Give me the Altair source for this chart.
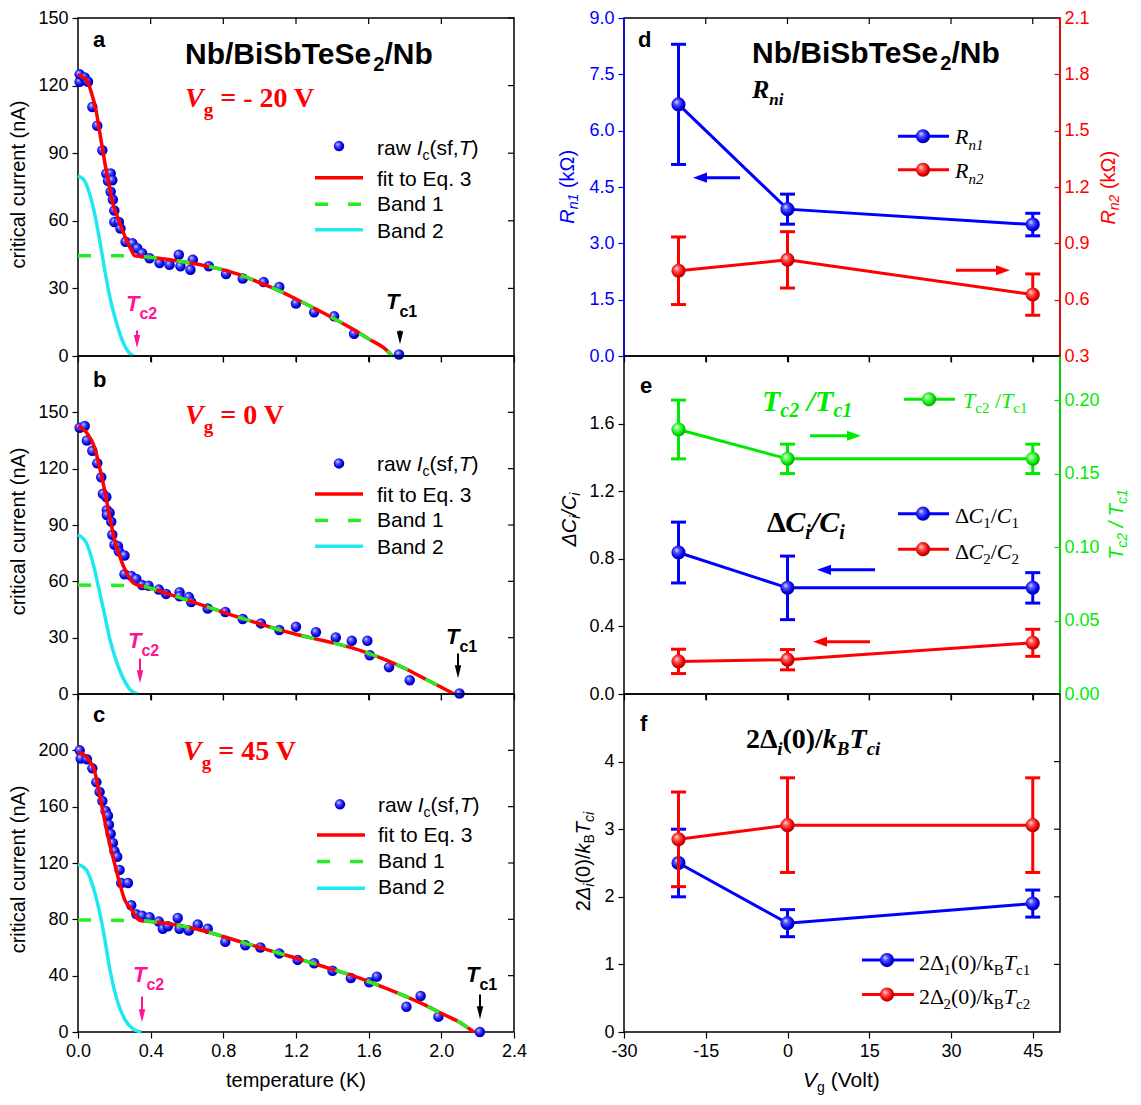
import altair as alt
import pandas as pd

SANS = "Liberation Sans"
SERIF = "Liberation Serif"

# ======================= DATA =======================
T_TICKS = [0.0, 0.4, 0.8, 1.2, 1.6, 2.0, 2.4]
VG_TICKS = [-30, -15, 0, 15, 30, 45]

# ---- panel a : Vg = -20 V ----
a_T = [0.009, 0.009, 0.037, 0.055, 0.079, 0.106, 0.134, 0.156, 0.180, 0.165, 0.189, 0.180, 0.192,
       0.200, 0.200, 0.225, 0.234, 0.262, 0.300, 0.326, 0.353, 0.394, 0.449, 0.504, 0.555, 0.564,
       0.619, 0.632, 0.720, 0.815, 0.907, 1.022, 1.108, 1.200, 1.300, 1.410, 1.520, 1.767]
a_I = [121.7, 125.0, 123.6, 121.7, 110.5, 102.2, 91.3, 81.0, 81.0, 77.7, 78.0, 72.9, 69.4,
       64.6, 59.5, 59.5, 56.6, 50.7, 50.0, 47.8, 45.6, 43.4, 41.3, 40.5, 44.9, 39.8,
       38.3, 42.7, 39.8, 36.4, 34.4, 32.8, 30.6, 23.3, 19.4, 17.6, 9.9, 0.7]
a_fit_T = [0.0, 0.049, 0.073, 0.101, 0.119, 0.137, 0.156, 0.174, 0.192, 0.211, 0.238, 0.266, 0.293, 0.311,
           0.4, 0.5, 0.6, 0.7, 0.8, 0.9, 1.0, 1.1, 1.2, 1.3, 1.4, 1.5, 1.6, 1.7, 1.73]
a_fit_I = [124.8, 122.2, 117.1, 108.3, 99.6, 90.8, 82.1, 74.8, 67.5, 63.1, 57.3, 51.5, 47.1, 44.5,
           43.8, 42.8, 41.5, 40.1, 38.2, 35.8, 32.5, 29.2, 25.3, 21.2, 17.0, 12.5, 7.6, 2.5, 0.0]
a_b1_T = [0.0, 0.311, 0.4, 0.5, 0.6, 0.7, 0.8, 0.9, 1.0, 1.1, 1.2, 1.3, 1.4, 1.5, 1.6, 1.7, 1.73]
a_b1_I = [44.5, 44.5, 43.8, 42.8, 41.5, 40.1, 38.2, 35.8, 32.5, 29.2, 25.3, 21.2, 17.0, 12.5, 7.6, 2.5, 0.0]
a_b2_T = [0.0, 0.037, 0.064, 0.092, 0.119, 0.147, 0.174, 0.211, 0.247, 0.284, 0.308]
a_b2_I = [79.9, 77.7, 71.9, 63.1, 51.5, 38.3, 26.7, 15.0, 6.3, 1.2, 0.0]
a_yticks = [0, 30, 60, 90, 120, 150]

# ---- panel b : Vg = 0 V ----
b_T = [0.009, 0.037, 0.049, 0.079, 0.106, 0.128, 0.137, 0.156, 0.159, 0.174, 0.159, 0.183, 0.189,
       0.201, 0.220, 0.225, 0.256, 0.256, 0.293, 0.321, 0.353, 0.388, 0.445, 0.485, 0.559, 0.559,
       0.610, 0.623, 0.714, 0.811, 0.907, 1.007, 1.108, 1.200, 1.310, 1.419, 1.507, 1.593, 1.606,
       1.712, 1.826, 2.100]
b_I = [141.8, 142.7, 135.0, 129.5, 122.9, 115.4, 106.6, 104.9, 97.9, 96.5, 95.3, 91.8, 84.8,
       79.5, 78.7, 76.0, 73.8, 63.8, 62.9, 61.2, 58.0, 57.7, 55.6, 53.3, 54.2, 52.1,
       51.6, 49.0, 45.5, 43.7, 39.9, 37.6, 34.1, 35.8, 32.9, 30.1, 28.3, 28.3, 20.6,
       14.3, 7.3, 0.3]
b_fit_T = [0.0, 0.049, 0.092, 0.119, 0.147, 0.174, 0.201, 0.229, 0.266, 0.302, 0.339,
           0.4, 0.5, 0.6, 0.7, 0.8, 0.9, 1.0, 1.1, 1.2, 1.3, 1.4, 1.5, 1.6, 1.7, 1.8, 1.9, 2.0, 2.07]
b_fit_I = [142.5, 139.0, 131.1, 120.6, 108.4, 94.4, 82.2, 73.4, 64.7, 59.4, 57.7,
           56.3, 53.2, 50.0, 46.8, 43.5, 40.4, 37.4, 34.4, 31.8, 29.5, 27.3, 24.8, 21.6, 17.9, 13.6, 8.6, 3.6, 0.0]
b_b1_T = [0.0, 0.339, 0.4, 0.5, 0.6, 0.7, 0.8, 0.9, 1.0, 1.1, 1.2, 1.3, 1.4, 1.5, 1.6, 1.7, 1.8, 1.9, 2.0, 2.07]
b_b1_I = [58.0, 57.7, 56.3, 53.2, 50.0, 46.8, 43.5, 40.4, 37.4, 34.4, 31.8, 29.5, 27.3, 24.8, 21.6, 17.9,
          13.6, 8.6, 3.6, 0.0]
b_b2_T = [0.0, 0.046, 0.082, 0.119, 0.147, 0.174, 0.211, 0.256, 0.293, 0.330]
b_b2_I = [84.8, 80.4, 69.9, 54.2, 42.0, 29.7, 17.5, 7.0, 1.7, 0.0]
b_yticks = [0, 30, 60, 90, 120, 150]

# ---- panel c : Vg = 45 V ----
c_T = [0.009, 0.015, 0.049, 0.079, 0.101, 0.119, 0.134, 0.152, 0.165, 0.170, 0.180, 0.192, 0.201,
       0.216, 0.229, 0.238, 0.275, 0.293, 0.321, 0.353, 0.394, 0.445, 0.467, 0.495, 0.549, 0.559,
       0.610, 0.659, 0.714, 0.811, 0.921, 1.004, 1.108, 1.209, 1.300, 1.401, 1.502, 1.603, 1.645,
       1.808, 1.886, 1.984, 2.212]
c_I = [200.0, 194.2, 193.7, 187.2, 177.4, 170.5, 164.0, 157.0, 153.5, 147.2, 140.7, 134.2, 128.4,
       124.4, 115.1, 105.8, 105.8, 90.0, 83.7, 82.6, 81.4, 78.4, 73.3, 75.1, 81.0, 73.3,
       72.1, 76.3, 73.3, 64.0, 61.6, 60.0, 55.8, 51.2, 48.8, 43.5, 38.4, 35.3, 39.3,
       17.9, 25.6, 10.9, 0.0]
c_fit_T = [0.0, 0.055, 0.092, 0.119, 0.147, 0.174, 0.201, 0.229, 0.256, 0.293, 0.330, 0.348,
           0.4, 0.5, 0.6, 0.7, 0.8, 0.9, 1.0, 1.1, 1.2, 1.3, 1.4, 1.5, 1.6, 1.7, 1.8, 1.9, 2.0, 2.1, 2.18]
c_fit_I = [198.8, 194.0, 184.9, 168.6, 150.0, 133.7, 119.8, 105.8, 94.2, 87.2, 80.2, 79.0,
           78.5, 76.8, 74.5, 71.5, 67.8, 63.8, 60.0, 56.2, 52.5, 48.5, 44.5, 40.5, 35.8, 30.8, 25.5,
           19.8, 13.3, 7.0, 0.0]
c_b1_T = [0.0, 0.348, 0.4, 0.5, 0.6, 0.7, 0.8, 0.9, 1.0, 1.1, 1.2, 1.3, 1.4, 1.5, 1.6, 1.7, 1.8, 1.9,
          2.0, 2.1, 2.18]
c_b1_I = [79.5, 79.0, 78.5, 76.8, 74.5, 71.5, 67.8, 63.8, 60.0, 56.2, 52.5, 48.5, 44.5, 40.5, 35.8,
          30.8, 25.5, 19.8, 13.3, 7.0, 0.0]
c_b2_T = [0.0, 0.046, 0.082, 0.119, 0.147, 0.174, 0.211, 0.256, 0.302, 0.348]
c_b2_I = [119.0, 115.1, 103.5, 84.9, 66.3, 45.3, 24.4, 9.3, 2.3, 0.0]
c_yticks = [0, 40, 80, 120, 160, 200]

# ---- right column (gate voltage dependence) ----
VG = [-20, 0, 45]
Rn1 = [6.70, 3.91, 3.50]
Rn1_err = [1.60, 0.40, 0.30]
Rn2 = [0.754, 0.812, 0.627]
Rn2_err = [0.180, 0.150, 0.110]
dC1 = [0.837, 0.628, 0.628]
dC1_err = [0.180, 0.188, 0.090]
dC2 = [0.193, 0.203, 0.303]
dC2_err = [0.072, 0.060, 0.080]
TcR = [0.180, 0.160, 0.160]
TcR_err = [0.020, 0.010, 0.010]
G1 = [2.50, 1.61, 1.90]
G1_err = [0.50, 0.20, 0.20]
G2 = [2.85, 3.06, 3.06]
G2_err = [0.70, 0.70, 0.70]

# ======================= STYLE =======================
W, H = 436, 338
SY = H / 343.0  # annotation positions below were measured on a 343 px tall panel
SX = W / 437.0
BLUE, RED, GREEN, CYAN, PINK = "#0000ff", "#ff0000", "#00ea00", "#20e8f0", "#ff1493"
DASH_GREEN = "#22ee22"


def grad(c0, c1, c2, c3):
    return {"gradient": "radial", "x1": 0.36, "y1": 0.32, "r1": 0.0,
            "x2": 0.45, "y2": 0.45, "r2": 0.62,
            "stops": [{"offset": 0, "color": c0}, {"offset": 0.28, "color": c1},
                      {"offset": 0.7, "color": c2}, {"offset": 1, "color": c3}]}


G_BLUE = grad("#e4e4ff", "#5a5aff", "#0000e6", "#00008a")
G_RED = grad("#ffe4e4", "#ff6060", "#e60000", "#8a0000")
G_GREEN = grad("#e4ffe4", "#70ff70", "#00dd00", "#008a00")

KIND = {
    "sans": (SANS, "normal", "normal"), "sansi": (SANS, "normal", "italic"),
    "sansb": (SANS, "bold", "normal"), "sansbi": (SANS, "bold", "italic"),
    "serif": (SERIF, "normal", "normal"), "serifi": (SERIF, "normal", "italic"),
    "serifb": (SERIF, "bold", "normal"), "serifbi": (SERIF, "bold", "italic"),
}


def _w(pairs):
    d = {}
    for chars, w in pairs:
        for ch in chars:
            d[ch] = w
    return d


W_SANS = _w([(" ,./", 278), ("()-r", 333), ("0123456789", 556), ("=", 584), ("ABEKPSVXY", 667),
             ("CDHNRU", 722), ("FTZ", 611), ("GOQ", 778), ("I", 278), ("L", 556), ("M", 833),
             ("abdeghnopqu", 556), ("ckvxyzs", 500), ("ft", 278), ("ijl", 222), ("m", 833), ("w", 722),
             ("Δ", 668), ("Ω", 768)])
W_SANSB = dict(W_SANS)
W_SANSB.update(_w([("ABCN", 722), ("bdgnopqu", 611), ("ces", 556), ("ijl", 278), ("r", 389)]))
W_SERIF = _w([(" ", 250), ("()-", 333), ("/it", 278), ("0123456789gkno", 500), ("=", 564), ("BCRT", 667),
              ("T", 611), ("V", 722), ("ace", 444), ("l", 278), ("Δ", 612)])
W_SERIFB = dict(W_SERIF)
W_SERIFB.update(_w([("=", 570), ("CRV", 722), ("T", 667), ("kn", 556)]))
W_SERIFI = _w([(" ", 250), ("/i", 278), ("0123456789n", 500), ("BR", 611), ("C", 667), ("T", 556),
               ("c", 444), ("k", 444), ("V", 611)])
W_SERIFBI = _w([(" ", 250), ("/i", 278), ("0123456789k", 500), ("BRCV", 667), ("T", 611), ("c", 444),
                ("n", 556), ("()", 333)])
WTAB = {"sans": W_SANS, "sansi": W_SANS, "sansb": W_SANSB, "sansbi": W_SANSB,
        "serif": W_SERIF, "serifi": W_SERIFI, "serifb": W_SERIFB, "serifbi": W_SERIFBI}

ONE = pd.DataFrame({"k": [0]})


def seg_w(text, kind, size):
    tab = WTAB[kind]
    return sum(tab.get(ch, 550) for ch in text) * size / 1000.0


def txt(text, kind, size, x, y, color, angle=0):
    fam, wt, st = KIND[kind]
    return alt.Chart(ONE).mark_text(text=text, font=fam, fontSize=size, fontWeight=wt, fontStyle=st,
                                    color=color, align="left", baseline="alphabetic",
                                    angle=angle).encode(x=alt.value(x), y=alt.value(y))


def rich(segs, x, y, color="black", angle=0, align="left"):
    y = y * SY
    widths = [seg_w(s[0], s[1], s[2]) for s in segs]
    total = sum(widths)
    adv = {"left": 0.0, "center": -total / 2.0, "right": -total}[align]
    out = []
    for s, w in zip(segs, widths):
        text, kind, size = s[0], s[1], s[2]
        dy = s[3] if len(s) > 3 else 0
        lead = len(text) - len(text.lstrip(" "))
        a0 = adv + seg_w(" " * lead, kind, size)
        t = text.strip(" ")
        if t:
            if angle == 0:
                px, py = x + a0, y + dy
            else:
                px, py = x + dy, y - a0
            out.append(txt(t, kind, size, px, py, color, angle))
        adv += w
    return out


LEFT_HEAD = "M-1,0L1,-0.72L1,0.72Z"
RIGHT_HEAD = "M1,0L-1,-0.72L-1,0.72Z"
DOWN_HEAD = "M0,1L-0.5,-1L0.5,-1Z"


def harrow(x_tail, x_tip, y, color, head=14, sw=3):
    y = y * SY
    d = 1 if x_tip > x_tail else -1
    shaft = alt.Chart(ONE).mark_rule(color=color, strokeWidth=sw).encode(
        x=alt.value(x_tail), x2=alt.value(x_tip - d * head * 0.8), y=alt.value(y))
    hd = alt.Chart(ONE).mark_point(shape=RIGHT_HEAD if d > 0 else LEFT_HEAD, filled=True, fill=color,
                                   size=head * head, opacity=1, strokeWidth=0).encode(
        x=alt.value(x_tip - d * head / 2.0), y=alt.value(y))
    return [shaft, hd]


def varrow(x, y_tail, y_tip, color, head=13, sw=2):
    y_tail, y_tip = y_tail * SY, y_tip * SY
    shaft = alt.Chart(ONE).mark_rule(color=color, strokeWidth=sw).encode(
        x=alt.value(x), y=alt.value(y_tail), y2=alt.value(y_tip - head * 0.8))
    hd = alt.Chart(ONE).mark_point(shape=DOWN_HEAD, filled=True, fill=color, size=head * head,
                                   opacity=1, strokeWidth=0).encode(x=alt.value(x), y=alt.value(y_tip - head / 2.0))
    return [shaft, hd]


def hseg(x1, x2, y, color, sw=3.5, dash=None):
    kw = dict(color=color, strokeWidth=sw)
    if dash:
        kw["strokeDash"] = dash
    return alt.Chart(ONE).mark_rule(**kw).encode(x=alt.value(x1), x2=alt.value(x2), y=alt.value(y * SY))


def vline(x, color, sw=1.6):
    return alt.Chart(ONE).mark_rule(color=color, strokeWidth=sw).encode(
        x=alt.value(x), y=alt.value(0), y2=alt.value(H))


def dot(x, y, g, size):
    return alt.Chart(ONE).mark_point(shape="circle", filled=True, fill=g, size=size, opacity=1,
                                     strokeWidth=0).encode(x=alt.value(x), y=alt.value(y * SY))


# ======================= LEFT PANELS =======================
def left_panel(T, I, fT, fI, b1T, b1I, b2T, b2I, ymax, yticks, letter, letter_y, vg_txt, vg_x, vg_y,
               leg, tc2, tc1, ytitle_c, show_x):
    xs = alt.Scale(domain=[0, 2.4], nice=False, zero=False)
    ys = alt.Scale(domain=[0, ymax], nice=False, zero=False)
    xax = alt.Axis(values=T_TICKS, labels=show_x, format=".1f", title=None)
    yax = alt.Axis(values=yticks, format="d", title=None)

    def X(f):
        return alt.X(f, type="quantitative", scale=xs, axis=xax)

    def Y(f):
        return alt.Y(f, type="quantitative", scale=ys, axis=yax)

    L = []
    L.append(alt.Chart(pd.DataFrame({"T": T, "I": I})).mark_point(
        shape="circle", filled=True, fill=G_BLUE, size=110, opacity=1, strokeWidth=0).encode(x=X("T"), y=Y("I")))
    L.append(alt.Chart(pd.DataFrame({"T": b2T, "I": b2I})).mark_line(
        color=CYAN, strokeWidth=3.5, interpolate="monotone").encode(x=X("T"), y=Y("I")))
    L.append(alt.Chart(pd.DataFrame({"T": fT, "I": fI})).mark_line(
        color=RED, strokeWidth=3.5, interpolate="monotone").encode(x=X("T"), y=Y("I")))
    L.append(alt.Chart(pd.DataFrame({"T": b1T, "I": b1I})).mark_line(
        color=DASH_GREEN, strokeWidth=3.5, strokeDash=[13, 20], interpolate="monotone").encode(x=X("T"), y=Y("I")))
    # mirror ticks (top and right, pointing inward)
    L.append(alt.Chart(pd.DataFrame({"v": T_TICKS[1:-1]})).mark_rule(color="black", strokeWidth=1.2).encode(
        x=X("v"), y=alt.value(0), y2=alt.value(6)))
    L.append(alt.Chart(pd.DataFrame({"v": yticks[1:]})).mark_rule(color="black", strokeWidth=1.2).encode(
        y=Y("v"), x=alt.value(W - 6), x2=alt.value(W)))
    # panel letter, title, gate voltage
    L += rich([(letter, "sansb", 22)], 15, letter_y)
    if letter == "a":
        L += rich([("Nb/BiSbTeSe", "sansb", 30), ("2", "sansb", 20, 7), ("/Nb", "sansb", 30)], 107, 47)
    L += rich([("V", "serifbi", 28), ("g", "serifb", 19, 9), (vg_txt, "serifb", 28)], vg_x, vg_y, RED)
    # legend
    mx, my, tx, tb, lx1, lx2, ly = leg
    L.append(dot(mx, my, G_BLUE, 110))
    L += rich([("raw ", "sans", 21), ("I", "sansi", 21), ("c", "sans", 14, 5), ("(sf,", "sans", 21),
               ("T", "sansi", 21), (")", "sans", 21)], tx, tb[0])
    L += rich([("fit to Eq. 3", "sans", 21)], tx, tb[1])
    L += rich([("Band 1", "sans", 21)], tx, tb[2])
    L += rich([("Band 2", "sans", 21)], tx, tb[3])
    L.append(hseg(lx1, lx2, ly[0], RED))
    L.append(hseg(lx1, lx2, ly[1], DASH_GREEN, dash=[13, 20]))
    L.append(hseg(lx1, lx2, ly[2], CYAN))
    # Tc markers
    (t2x, t2y, a2x, a2y0, a2y1) = tc2
    (t1x, t1y, a1x, a1y0, a1y1) = tc1
    L += rich([("T", "sansbi", 22), ("c2", "sansb", 16, 8)], t2x, t2y, PINK)
    L += varrow(a2x, a2y0, a2y1, PINK)
    L += rich([("T", "sansbi", 22), ("c1", "sansb", 16, 8)], t1x, t1y, "black")
    L += varrow(a1x, a1y0, a1y1, "black")
    # axis titles
    L += rich([("critical current (nA)", "sans", 20)], -53, ytitle_c, angle=270, align="center")
    if show_x:
        L += rich([("temperature (K)", "sans", 20)], W / 2, 399, align="center")
    return alt.layer(*L).properties(width=W, height=H)


pa = left_panel(a_T, a_I, a_fit_T, a_fit_I, a_b1_T, a_b1_I, a_b2_T, a_b2_I, 150, a_yticks, "a", 29,
                " = - 20 V", 107, 90,
                (261, 130, 299, [139, 170, 196, 223], 237, 285, [162, 189, 215]),
                (48, 297, 59, 317, 335), (308, 295, 322, 317, 331), 169, False)
pb = left_panel(b_T, b_I, b_fit_T, b_fit_I, b_b1_T, b_b1_I, b_b2_T, b_b2_I, 180, b_yticks, "b", 31,
                " = 0 V", 107, 69,
                (261, 109, 299, [117, 148, 174, 201], 237, 285, [140, 167, 193]),
                (50, 296, 62, 307, 332), (368, 292, 380, 302, 327), 178, False)
pc = left_panel(c_T, c_I, c_fit_T, c_fit_I, c_b1_T, c_b1_I, c_b2_T, c_b2_I, 240, c_yticks, "c", 28,
                " = 45 V", 105, 67,
                (262, 112, 300, [120, 150, 177, 203], 239, 287, [143, 170, 197]),
                (55, 292, 64, 307, 333), (388, 292, 402, 305, 330), 178, True)

# ======================= RIGHT PANELS =======================
XR = alt.Scale(domain=[-30, 50], nice=False, zero=False)


def xax_r(show):
    return alt.Axis(values=VG_TICKS, labels=show, labelExpr="datum.value + ''", title=None)


def series(v, err, color, g, X, Y):
    df = pd.DataFrame({"vg": VG, "v": v, "lo": [a - e for a, e in zip(v, err)],
                       "hi": [a + e for a, e in zip(v, err)]})
    base = alt.Chart(df)
    return [
        base.mark_rule(color=color, strokeWidth=3).encode(x=X("vg"), y=Y("lo"), y2=alt.Y2("hi")),
        base.mark_tick(color=color, orient="horizontal", size=15, thickness=3, opacity=1).encode(x=X("vg"), y=Y("lo")),
        base.mark_tick(color=color, orient="horizontal", size=15, thickness=3, opacity=1).encode(x=X("vg"), y=Y("hi")),
        base.mark_line(color=color, strokeWidth=3).encode(x=X("vg"), y=Y("v")),
        base.mark_point(shape="circle", filled=True, fill=g, size=200, opacity=1, strokeWidth=0).encode(x=X("vg"), y=Y("v")),
    ]


def make_xy(xaxis, yscale, yaxis):
    def X(f):
        return alt.X(f, type="quantitative", scale=XR, axis=xaxis)

    def Y(f):
        return alt.Y(f, type="quantitative", scale=yscale, axis=yaxis)
    return X, Y


def top_ticks(X):
    return alt.Chart(pd.DataFrame({"v": VG_TICKS[1:]})).mark_rule(color="black", strokeWidth=1.2).encode(
        x=X("v"), y=alt.value(0), y2=alt.value(6))


# ---- panel d ----
xa = xax_r(False)
XdL, YdL = make_xy(xa, alt.Scale(domain=[0, 9], nice=False, zero=False),
                   alt.Axis(values=[0, 1.5, 3, 4.5, 6, 7.5, 9], format=".1f", labelColor=BLUE, tickColor=BLUE, title=None))
XdR, YdR = make_xy(xa, alt.Scale(domain=[0.3, 2.1], nice=False, zero=False),
                   alt.Axis(orient="right", values=[0.3, 0.6, 0.9, 1.2, 1.5, 1.8, 2.1], format=".1f",
                            labelColor=RED, tickColor=RED, offset=-6, title=None))
dA = [top_ticks(XdL)] + series(Rn1, Rn1_err, BLUE, G_BLUE, XdL, YdL)
dA += [vline(0, BLUE), vline(W, RED)]
dA += rich([("d", "sansb", 22)], 14, 29)
dA += rich([("Nb/BiSbTeSe", "sansb", 30), ("2", "sansb", 20, 7), ("/Nb", "sansb", 30)], 128, 46)
dA += rich([("R", "serifbi", 26), ("ni", "serifbi", 17, 7)], 128, 81)
dA += [hseg(274, 325, 120, BLUE, 3), dot(299, 120, G_BLUE, 200)]
dA += rich([("R", "serifi", 22), ("n1", "serifi", 15, 6)], 331, 128)
dA += [hseg(274, 325, 154, RED, 3), dot(299, 154, G_RED, 200)]
dA += rich([("R", "serifi", 22), ("n2", "serifi", 15, 6)], 331, 162)
dA += harrow(116, 69, 162, BLUE)
dA += harrow(332, 386, 256, RED)
dA += rich([("R", "sansi", 20), ("n1", "sansi", 14, 4), (" (kΩ)", "sans", 20)], -50, 171, BLUE, 270, "center")
dA += rich([("R", "sansi", 20), ("n2", "sansi", 14, 4), (" (kΩ)", "sans", 20)], 491, 172, RED, 270, "center")
dB = series(Rn2, Rn2_err, RED, G_RED, XdR, YdR)
pd_ = alt.layer(alt.layer(*dA), alt.layer(*dB)).resolve_scale(y="independent").properties(width=W, height=H)

# ---- panel e ----
XeL, YeL = make_xy(xa, alt.Scale(domain=[0, 2.0], nice=False, zero=False),
                   alt.Axis(values=[0, 0.4, 0.8, 1.2, 1.6], format=".1f", title=None))
XeR, YeR = make_xy(xa, alt.Scale(domain=[0, 0.23], nice=False, zero=False),
                   alt.Axis(orient="right", values=[0, 0.05, 0.1, 0.15, 0.2], format=".2f",
                            labelColor=GREEN, tickColor=GREEN, offset=-6, title=None))
eA = [top_ticks(XeL)] + series(dC1, dC1_err, BLUE, G_BLUE, XeL, YeL) + series(dC2, dC2_err, RED, G_RED, XeL, YeL)
eA += [vline(W, GREEN)]
eA += rich([("e", "sansb", 22)], 16, 38)
eA += rich([("T", "serifbi", 30), ("c2", "serifbi", 20, 6), (" /", "serifbi", 30), ("T", "serifbi", 30),
            ("c1", "serifbi", 20, 6)], 138, 56, GREEN)
eA += [hseg(280, 331, 44, GREEN, 3), dot(305, 44, G_GREEN, 200)]
eA += rich([("T", "serifi", 22), ("c2", "serif", 15, 5), (" /", "serif", 22), ("T", "serifi", 22),
            ("c1", "serif", 15, 5)], 339, 53, GREEN)
eA += rich([("Δ", "serifb", 30), ("C", "serifbi", 30), ("i", "serifbi", 20, 7), ("/", "serifbi", 30),
            ("C", "serifbi", 30), ("i", "serifbi", 20, 7)], 143, 179)
eA += [hseg(274, 325, 160, BLUE, 3), dot(299, 160, G_BLUE, 200)]
eA += rich([("Δ", "serif", 22), ("C", "serifi", 22), ("1", "serif", 15, 5), ("/", "serif", 22),
            ("C", "serifi", 22), ("1", "serif", 15, 5)], 331, 169)
eA += [hseg(274, 325, 196, RED, 3), dot(299, 196, G_RED, 200)]
eA += rich([("Δ", "serif", 22), ("C", "serifi", 22), ("2", "serif", 15, 5), ("/", "serif", 22),
            ("C", "serifi", 22), ("2", "serif", 15, 5)], 331, 206)
eA += harrow(186, 237, 81, GREEN)
eA += harrow(251, 193, 217, BLUE)
eA += harrow(246, 189, 290, RED)
eA += rich([("ΔC", "sansi", 20), ("i", "sansi", 14, 4), ("/C", "sansi", 20), ("i", "sansi", 14, 4)],
           -48, 166, "black", 270, "center")
eA += rich([("T", "sansi", 20), ("c2", "sansi", 14, 4), (" / ", "sansi", 20), ("T", "sansi", 20),
            ("c1", "sansi", 14, 4)], 499, 171, GREEN, 270, "center")
eB = series(TcR, TcR_err, GREEN, G_GREEN, XeR, YeR)
pe = alt.layer(alt.layer(*eA), alt.layer(*eB)).resolve_scale(y="independent").properties(width=W, height=H)

# ---- panel f ----
fys = alt.Scale(domain=[0, 5], nice=False, zero=False)
Xf, Yf = make_xy(xax_r(True), fys, alt.Axis(values=[0, 1, 2, 3, 4], format="d", title=None))
fL = [top_ticks(Xf)]
fL.append(alt.Chart(pd.DataFrame({"v": [1, 2, 3, 4]})).mark_rule(color="black", strokeWidth=1.2).encode(
    y=Yf("v"), x=alt.value(W - 6), x2=alt.value(W)))
fL += series(G1, G1_err, BLUE, G_BLUE, Xf, Yf) + series(G2, G2_err, RED, G_RED, Xf, Yf)
fL += rich([("f", "sansb", 22)], 16, 38)
fL += rich([("2Δ", "serifb", 28), ("i", "serifbi", 19, 7), ("(0)/", "serifb", 28), ("k", "serifbi", 28),
            ("B", "serifbi", 19, 7), ("T", "serifbi", 28), ("ci", "serifbi", 19, 7)], 122, 55)
fL += [hseg(238, 290, 270, BLUE, 3), dot(263, 270, G_BLUE, 200)]
fL += rich([("2Δ", "serif", 22), ("1", "serif", 15, 5), ("(0)/k", "serif", 22), ("B", "serif", 15, 5),
            ("T", "serifi", 22), ("c1", "serif", 15, 5)], 295, 280)
fL += [hseg(238, 290, 305, RED, 3), dot(263, 305, G_RED, 200)]
fL += rich([("2Δ", "serif", 22), ("2", "serif", 15, 5), ("(0)/k", "serif", 22), ("B", "serif", 15, 5),
            ("T", "serifi", 22), ("c2", "serif", 15, 5)], 295, 315)
fL += rich([("2", "sans", 20), ("Δ", "sansi", 20), ("i", "sansi", 14, 4), ("(0)/", "sans", 20), ("k", "sansi", 20),
            ("B", "sans", 14, 4), ("T", "sansi", 20), ("ci", "sansi", 14, 4)], -34, 170, "black", 270, "center")
fL += rich([("V", "sansi", 21), ("g", "sans", 14, 5), (" (Volt)", "sans", 21)], W / 2, 399, align="center")
pf = alt.layer(*fL).properties(width=W, height=H)

chart = alt.concat(pa, pd_, pb, pe, pc, pf, columns=2, spacing={"row": 0, "column": 110}, bounds="flush").properties(
    padding={"left": 0, "top": 0, "right": 0, "bottom": 0}
).configure_view(stroke="black", strokeWidth=1.5).configure_axis(
    grid=False, domain=False, tickColor="black", tickWidth=1.2, tickSize=6, labelFont=SANS,
    labelFontSize=18, labelColor="black", labelPadding=4, labelFlush=False, titleFont=SANS)

chart.save("out.html", embed_options={"renderer": "svg", "actions": False})
